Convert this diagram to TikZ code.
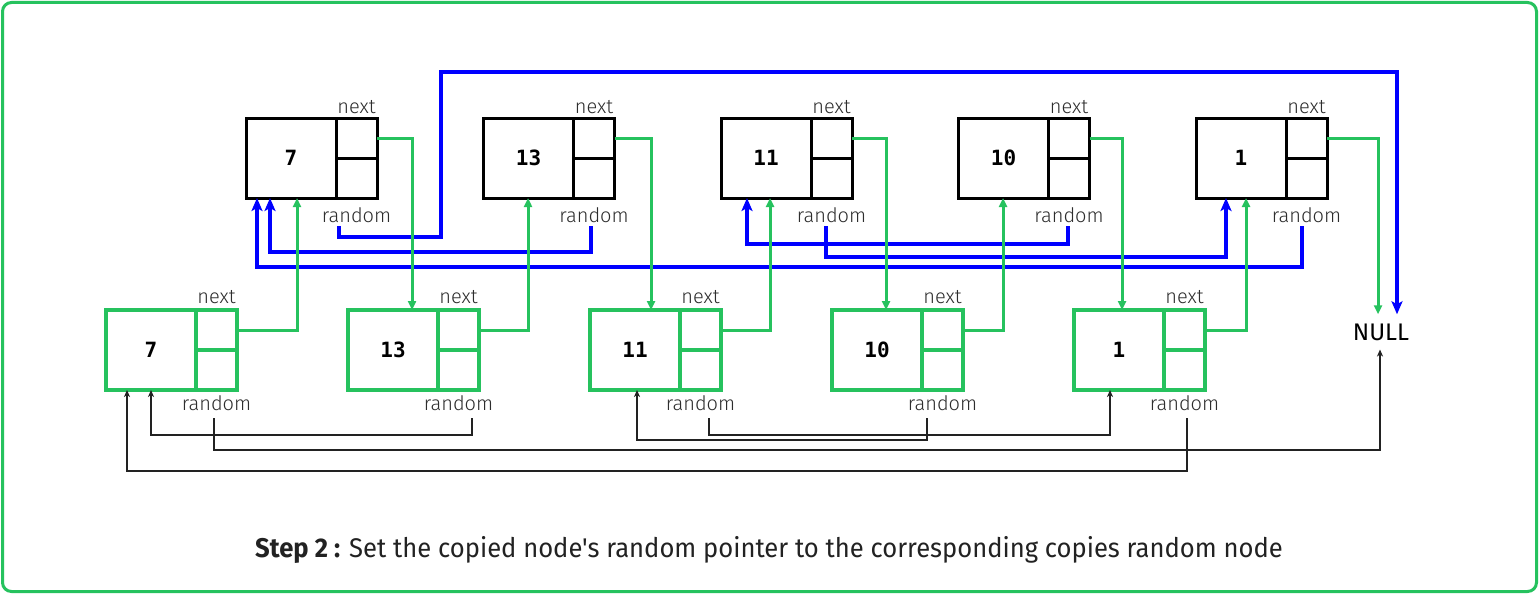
\documentclass[tikz,border=0pt]{standalone}
\usepackage{fontspec}
\setmainfont{Fira Sans}
\newfontfamily\lblfont{Fira Sans Light}
\newfontfamily\numfont{DejaVu Sans Mono}
\newfontfamily\capfont{Fira Sans}[Ligatures=TeXOff]
\usetikzlibrary{arrows.meta}
\definecolor{gfg}{RGB}{38,194,94}
\definecolor{lblgray}{RGB}{45,45,45}
\definecolor{pureblue}{RGB}{0,0,255}
\definecolor{kline}{RGB}{34,34,34}
\tikzset{
  topval/.style={draw=black, line width=3pt, minimum width=90pt, minimum height=80pt, inner sep=0pt, outer sep=0pt, anchor=north west, font=\numfont\bfseries\fontsize{21}{21}\selectfont},
  topptr/.style={draw=black, line width=3pt, minimum width=41pt, minimum height=40pt, inner sep=0pt, outer sep=0pt, anchor=north west},
  botval/.style={topval, draw=gfg, line width=3.2pt},
  botptr/.style={topptr, draw=gfg, line width=3.2pt},
  lbl/.style={font=\lblfont\fontsize{20}{20}\selectfont, text=lblgray, inner sep=0pt, anchor=base},
  bluew/.style={draw=pureblue, line width=3.4pt, -{Stealth[length=13pt,width=11pt,inset=3pt]}},
  gnext/.style={draw=gfg, line width=3pt, -{Triangle[length=9pt,width=8pt]}},
  kline/.style={draw=kline, line width=1.7pt, -{Stealth[length=7pt,width=6pt,inset=2pt]}},
}
\begin{document}
\begin{tikzpicture}[x=1pt,y=-1pt]
\useasboundingbox (0,0) rectangle (1539,594);
\draw[gfg, line width=3pt, rounded corners=9pt, fill=white] (2.5,2.5) rectangle (1536.5,591.5);

% top row (originals)
\foreach \v [count=\i] in {7,13,11,10,1} {
  \pgfmathsetmacro\tx{246+237.5*(\i-1)}
  \node[topval] (t\i) at (\tx,118) {\v};
  \node[topptr] (t\i n) at (t\i.north east) {};
  \node[topptr] (t\i r) at (t\i n.south west) {};
  \node[lbl] (tnl\i) at (\tx+110.5,113) {next};
  \node[lbl] (trl\i) at (\tx+110.5,222) {random};
}
% bottom row (copies)
\foreach \v [count=\i] in {7,13,11,10,1} {
  \pgfmathsetmacro\bx{106+242*(\i-1)}
  \node[botval] (b\i) at (\bx,310) {\v};
  \node[botptr] (b\i n) at (b\i.north east) {};
  \node[botptr] (b\i r) at (b\i n.south west) {};
  \node[lbl] (bnl\i) at (\bx+110.5,303) {next};
  \node[lbl] (brl\i) at (\bx+110.5,410) {random};
}
\node[font=\fontsize{24}{24}\selectfont, text=black, inner sep=9pt, anchor=base] (null) at (1381,340) {NULL};

% start points of random pointers
\coordinate (rs1) at (339,226);
\coordinate (rs2) at (591,226);
\coordinate (rs3) at (826,226);
\coordinate (rs4) at (1068,226);
\coordinate (rs5) at (1302,226);
\coordinate (ks1) at (214,418);
\coordinate (ks2) at (472,418);
\coordinate (ks3) at (709,418);
\coordinate (ks4) at (927,418);
\coordinate (ks5) at (1187,418);

% blue random pointers of originals
\draw[bluew] (rs1) |- (441,237) |- (1397,72) -- (1397,0 |- null.north);
\draw[bluew] (rs2) |- (270,252) -- (270,0 |- t1.south);
\draw[bluew] (rs5) |- (257,267) -- (257,0 |- t1.south);
\draw[bluew] (rs4) |- (747,244) -- (747,0 |- t3.south);
\draw[bluew] (rs3) |- (1226,257) -- (1226,0 |- t5.south);

% green next pointers
\draw[gnext] (t1n.east) -| (412,0 |- b2.north);
\draw[gnext] (t2n.east) -| (651,0 |- b3.north);
\draw[gnext] (t3n.east) -| (886,0 |- b4.north);
\draw[gnext] (t4n.east) -| (1122,0 |- b5.north);
\draw[gnext] (t5n.east) -| (1378,0 |- null.north);
\draw[gnext] (b1n.east) -| (297,0 |- t1.south);
\draw[gnext] (b2n.east) -| (528,0 |- t2.south);
\draw[gnext] (b3n.east) -| (770,0 |- t3.south);
\draw[gnext] (b4n.east) -| (1003,0 |- t4.south);
\draw[gnext] (b5n.east) -| (1246,0 |- t5.south);

% black random pointers of copies
\draw[kline] (ks1) |- (1380,450) -- (1380,0 |- null.south);
\draw[kline] (ks2) |- (151,435) -- (151,0 |- b1.south);
\draw[kline] (ks5) |- (127,471) -- (127,0 |- b1.south);
\draw[kline] (ks4) |- (637,440) -- (637,0 |- b3.south);
\draw[kline] (ks3) |- (1110,435) -- (1110,0 |- b5.south);

% caption
\node[anchor=base, inner sep=0pt, text=kline] (cap) at (769,557) {\scalebox{0.948}[1]{\capfont\fontsize{27}{27}\selectfont\textbf{Step 2 :} Set the copied node's random pointer to the corresponding copies random node}};
\end{tikzpicture}
\end{document}
